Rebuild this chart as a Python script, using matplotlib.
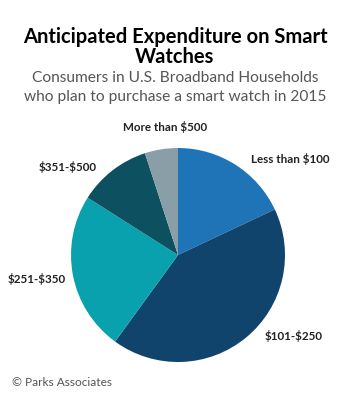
import matplotlib
matplotlib.use("Agg")
import matplotlib.pyplot as plt

plt.rcParams['text.parse_math'] = False

# data (percent of respondents)
categories = ['Less than $100', '$101-$250', '$251-$350', '$351-$500', 'More than $500']
shares = [18, 42, 24, 11, 5]
colors = ['#1f74b8', '#10446c', '#0aa1ae', '#0d505f', '#8a9ea8']

# label anchor positions in figure pixels (x, y from top) and alignment
label_pos = [(251, 159, 'left'), (265, 336, 'left'), (66, 279, 'right'),
             (97, 167, 'right'), (165, 127, 'center')]

W, H = 350, 401
fig = plt.figure(figsize=(W / 100, H / 100), dpi=100)
fig.patch.set_facecolor('white')

font = 'Lato'

fig.text(0.5, 1 - 37 / H, 'Anticipated Expenditure on Smart', ha='center', va='center',
         fontsize=14.5, fontweight='bold', family=font, color='black')
fig.text(0.5, 1 - 57 / H, 'Watches', ha='center', va='center',
         fontsize=14.5, fontweight='bold', family=font, color='black')
fig.text(0.5, 1 - 78 / H, 'Consumers in U.S. Broadband Households', ha='center', va='center',
         fontsize=11.2, family=font, color='#555555')
fig.text(0.5, 1 - 97 / H, 'who plan to purchase a smart watch in 2015', ha='center', va='center',
         fontsize=11.2, family=font, color='#555555')

# pie: center (178, 255) px, radius 107 px
cx, cy, r = 178, 255, 107
ax = fig.add_axes([(cx - r) / W, (H - cy - r) / H, 2 * r / W, 2 * r / H])
ax.pie(shares, colors=colors, startangle=90, counterclock=False, radius=1,
       wedgeprops=dict(linewidth=0))
ax.set_xlim(-1, 1)
ax.set_ylim(-1, 1)
ax.set_aspect('auto')
ax.axis('off')

for cat, (x, y, ha) in zip(categories, label_pos):
    fig.text(x / W, 1 - y / H, cat, ha=ha, va='center', fontsize=8.4,
             fontweight='bold', family=font, color='#222222')

fig.text(12 / W, 1 - 383 / H, '© Parks Associates', ha='left', va='center',
         fontsize=8.6, family=font, color='#555555')

fig.savefig('out.png', dpi=100)
